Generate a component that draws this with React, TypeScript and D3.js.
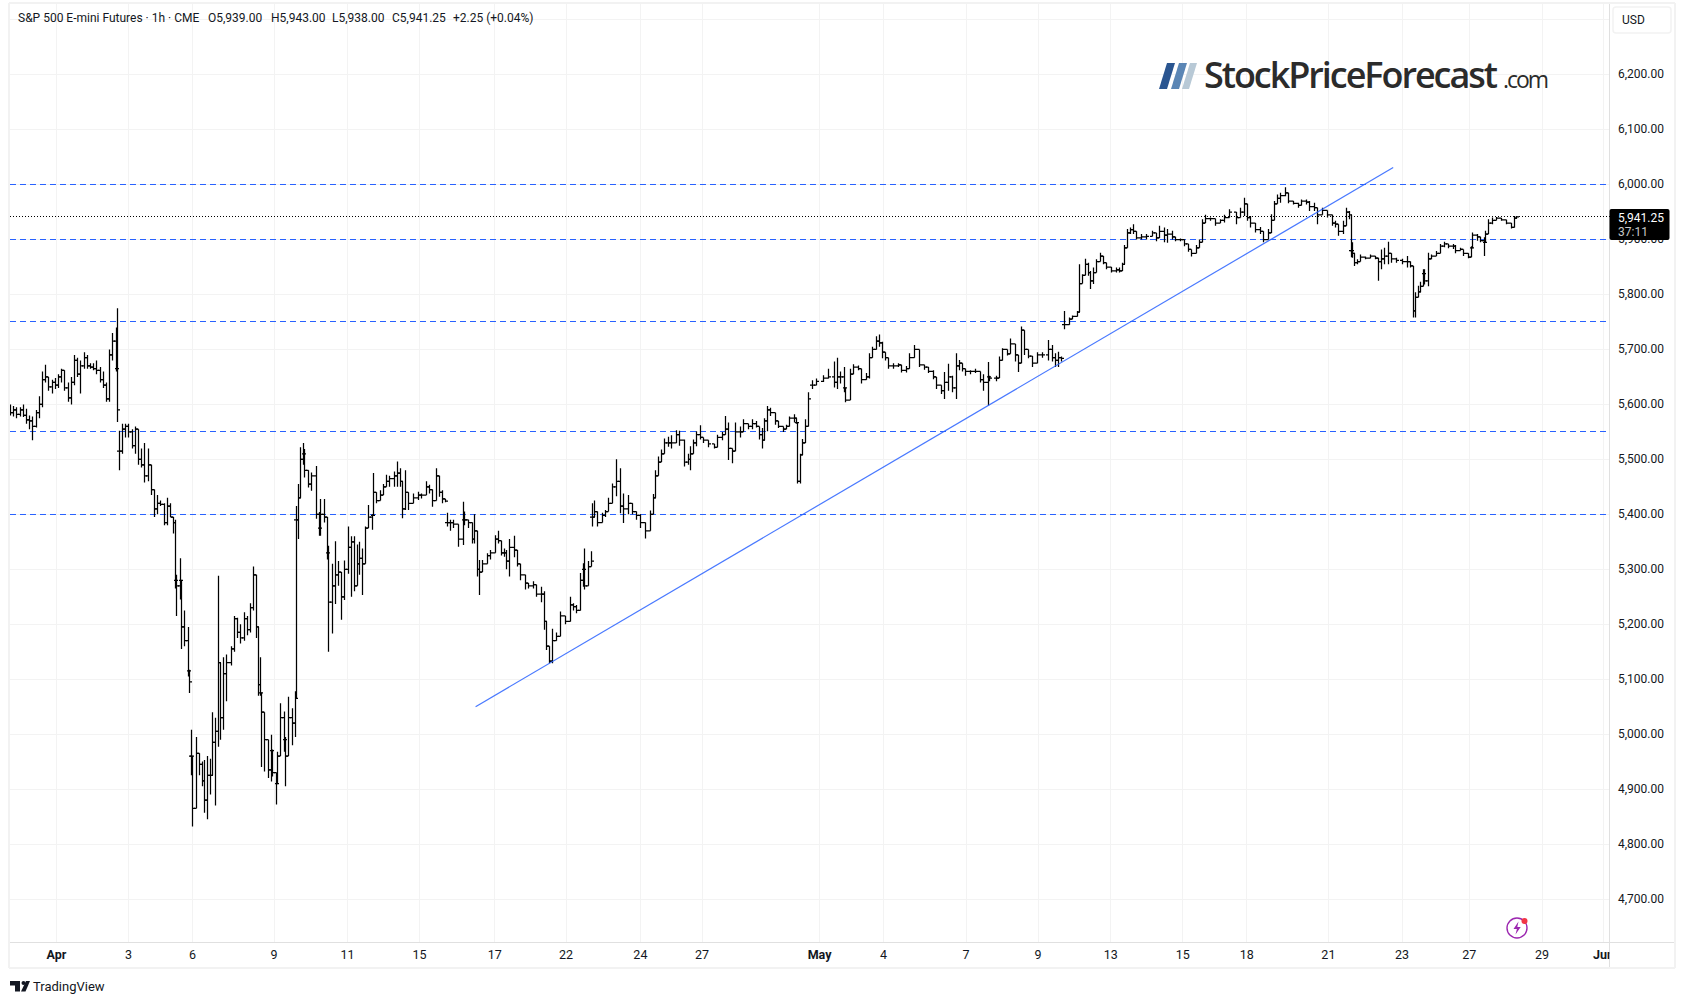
import * as d3 from "d3";

// bars are [hour, high, low, close]; hour counts traded hours from the left edge of the chart
type Bar = [number, number, number, number];

const aprilOpen: Bar[] = [
  [0,5600,5580,5585],[2,5597,5578,5590],[4,5595,5575,5582],[6,5595,5578,5590],[8,5600,5577,5580],
  [10,5592,5565,5572],[12,5580,5555,5570],[14,5578,5535,5560],[16,5590,5558,5585],[18,5615,5575,5600],
  [20,5660,5595,5645],[22,5672,5640,5650],[24,5650,5625,5632],[26,5645,5620,5640],[28,5648,5628,5635],
  [30,5655,5630,5650],[32,5665,5640,5662],[34,5662,5625,5630],[36,5640,5605,5612],[38,5650,5600,5640],
  [40,5690,5635,5680],[42,5685,5650,5655],[44,5680,5620,5670],[46,5695,5665,5685],[48,5690,5665,5670],
  [50,5675,5665,5668],[52,5675,5662,5665],[54,5680,5655,5662],[56,5668,5640,5645],[58,5660,5630,5635],
  [60,5640,5605,5610],[62,5700,5605,5690],[64,5730,5680,5715],[66,5740,5660,5665],[67,5775,5568,5590],
];

const aprilSlide: Bar[] = [
  [68,5552,5480,5515],[70,5565,5510,5555],[72,5565,5540,5560],[74,5565,5540,5550],[76,5555,5520,5525],
  [78,5560,5510,5555],[80,5530,5490,5500],[82,5520,5485,5490],[84,5530,5458,5470],[86,5520,5460,5490],
  [88,5485,5435,5445],[90,5440,5395,5410],[92,5435,5400,5420],[94,5425,5415,5418],[96,5420,5380,5385],
  [98,5430,5380,5415],[100,5420,5395,5395],[102,5395,5365,5385],[103,5390,5265,5280],[104,5290,5215,5270],
  [106,5320,5245,5280],[107,5280,5155,5195],[109,5225,5160,5170],[111,5195,5105,5115],[112,5117,5075,5095],
];

const aprilLows: Bar[] = [
  [113,5008,4925,4960],[114,4929,4832,4865],[116,4995,4875,4965],[118,4965,4925,4945],[120,4950,4905,4915],
  [121,4953,4857,4880],[123,4960,4845,4925],[125,4955,4890,4925],[126,5040,4970,4985],[128,5030,4870,5005],
  [130,5288,4977,5130],[131,5068,4990,5030],[133,5140,5008,5110],[135,5145,5060,5130],[138,5160,5125,5155],
  [140,5215,5150,5210],[142,5212,5175,5185],[144,5200,5165,5175],[146,5222,5170,5210],[148,5215,5180,5190],
  [150,5238,5185,5230],[152,5305,5225,5290],[154,5235,5175,5195],[155,5195,5070,5090],[156,5140,5070,5075],
  [157,5072,4940,5040],[159,5017,4932,4990],[161,4960,4920,4935],[163,4999,4914,4970],[164,4972,4923,4930],
  [166,4929,4872,4910],[167,4968,4914,4960],[169,5056,4971,5030],[171,5041,4968,4990],[172,4995,4905,4960],
  [174,5068,4962,5030],[176,5047,4980,5020],[178,5078,4995,5065],
];

const aprilRebound: Bar[] = [
  [179,5415,5065,5390],[180,5455,5355,5430],[181,5522,5483,5500],[183,5530,5490,5510],[184,5519,5467,5480],
  [186,5473,5449,5455],[188,5476,5443,5470],[191,5488,5392,5400],[193,5404,5361,5375],[194,5428,5361,5400],
  [196,5428,5385,5395],[198,5373,5318,5330],[199,5343,5150,5240],[201,5310,5183,5270],[203,5351,5237,5290],
  [205,5315,5270,5295],[207,5275,5208,5250],[209,5316,5244,5300],[211,5378,5292,5340],[213,5360,5250,5350],
  [215,5360,5260,5270],[217,5345,5290,5310],[218,5350,5290,5320],[220,5338,5253,5310],[222,5378,5310,5375],
  [224,5417,5375,5395],[226,5400,5372,5398],[227,5475,5411,5440],[229,5438,5420,5425],[231,5444,5426,5435],
  [233,5455,5438,5450],[235,5472,5450,5460],[237,5470,5450,5465],[240,5478,5450,5470],[242,5496,5450,5475],
  [244,5484,5450,5460],[245,5445,5393,5410],[247,5480,5408,5440],[249,5438,5408,5420],[252,5438,5426,5430],
  [255,5441,5426,5435],[257,5438,5429,5435],[260,5460,5438,5450],[262,5454,5438,5445],[264,5435,5414,5425],
  [266,5484,5432,5470],[268,5460,5432,5440],[270,5444,5420,5428],[272,5425,5422,5424],
];

const aprilRetest: Bar[] = [
  [273,5403,5378,5385],[275,5390,5370,5385],[277,5390,5375,5382],[280,5368,5341,5355],[283,5423,5344,5390],
  [284,5405,5380,5390],[286,5390,5375,5385],[289,5378,5347,5355],[290,5400,5347,5370],[292,5365,5287,5300],
  [293,5317,5253,5295],[295,5317,5296,5310],[298,5329,5311,5325],[300,5335,5318,5330],[303,5362,5344,5355],
  [305,5370,5347,5352],[307,5350,5325,5330],[309,5338,5323,5330],[310,5335,5300,5315],[312,5355,5287,5340],
  [315,5361,5322,5335],[317,5330,5305,5310],[319,5302,5280,5290],[322,5287,5263,5275],[324,5275,5265,5270],
  [327,5278,5265,5272],[329,5262,5250,5255],[332,5268,5240,5255],[334,5260,5190,5205],[335,5178,5153,5160],
  [337,5153,5129,5133],[339,5192,5129,5170],[341,5185,5172,5178],[344,5223,5205,5215],[347,5208,5200,5205],
  [350,5250,5205,5235],[352,5238,5225,5232],[354,5235,5220,5225],[356,5293,5235,5280],[358,5311,5268,5300],
  [359,5338,5263,5270],[361,5315,5295,5305],[363,5333,5310,5315],
];

const aprilClimb: Bar[] = [
  [364,5420,5378,5395],[365,5425,5398,5405],[367,5400,5378,5385],[370,5403,5390,5398],[372,5408,5395,5405],
  [374,5430,5410,5420],[376,5456,5430,5450],[379,5500,5433,5460],[381,5484,5402,5415],[383,5438,5384,5410],
  [386,5435,5400,5420],[389,5420,5400,5405],[391,5402,5390,5398],[394,5400,5375,5385],[397,5380,5356,5370],
  [400,5407,5380,5400],[402,5437,5400,5430],[403,5480,5437,5470],[405,5505,5487,5495],[407,5518,5500,5510],
  [409,5538,5520,5530],[411,5541,5523,5530],[413,5544,5520,5530],[416,5553,5535,5545],[418,5552,5525,5535],
  [421,5536,5487,5495],[424,5510,5490,5500],[425,5524,5480,5510],[427,5536,5512,5530],[429,5551,5524,5545],
  [431,5562,5536,5540],[433,5540,5530,5535],[436,5530,5522,5528],[440,5525,5520,5522],[442,5545,5530,5540],
  [445,5550,5535,5545],[447,5579,5545,5555],[449,5567,5499,5520],[451,5520,5493,5515],[453,5567,5535,5550],
  [456,5560,5540,5550],[458,5573,5557,5565],[461,5565,5555,5560],[464,5573,5555,5565],[466,5570,5558,5560],
  [468,5555,5536,5545],[470,5557,5520,5535],[471,5575,5550,5570],[473,5597,5551,5590],[475,5594,5579,5585],
  [478,5575,5563,5570],[480,5567,5557,5560],[483,5560,5550,5555],[485,5563,5557,5560],[487,5578,5569,5575],
  [490,5582,5567,5575],[491,5575,5565,5567],[492,5567,5456,5460],[494,5510,5456,5508],[495,5537,5512,5530],
  [497,5573,5536,5560],[499,5622,5573,5610],
];

const mayFirstWeek: Bar[] = [
  [501,5644,5628,5635],[504,5647,5637,5642],[508,5653,5641,5648],[511,5665,5647,5650],[515,5678,5631,5640],
  [517,5685,5628,5650],[519,5660,5638,5650],[521,5668,5622,5630],[522,5613,5604,5608],[525,5665,5610,5655],
  [527,5673,5662,5668],[530,5671,5662,5665],[532,5660,5638,5645],[535,5657,5645,5650],[537,5693,5647,5685],
  [539,5705,5687,5700],[541,5724,5705,5715],[543,5727,5705,5712],[545,5714,5684,5695],[547,5687,5680,5685],
  [549,5678,5665,5670],[552,5675,5665,5670],[555,5675,5668,5672],[557,5668,5658,5662],[560,5670,5658,5665],
  [562,5693,5677,5685],[565,5708,5693,5700],[568,5678,5668,5672],[571,5672,5663,5668],[574,5665,5657,5660],
  [577,5662,5646,5650],[579,5644,5628,5635],[582,5634,5619,5625],[584,5659,5610,5640],[586,5674,5625,5650],
  [589,5652,5622,5630],[591,5693,5610,5670],[593,5681,5662,5675],[595,5668,5660,5665],[597,5665,5652,5660],
  [600,5662,5655,5660],[603,5665,5657,5660],[606,5657,5640,5645],[608,5655,5625,5640],[611,5677,5598,5650],
  [612,5652,5642,5648],[616,5652,5642,5648],[618,5687,5668,5680],[620,5702,5696,5700],[623,5693,5689,5692],
  [625,5720,5699,5710],[628,5702,5678,5690],[630,5690,5659,5675],[632,5742,5720,5735],[634,5733,5690,5700],
  [636,5693,5684,5688],[639,5684,5668,5675],[642,5695,5685,5690],[645,5695,5685,5690],[649,5717,5680,5700],
  [651,5708,5678,5685],[653,5693,5668,5680],[655,5696,5668,5685],[657,5687,5678,5684],
];

const mayBreakout: Bar[] = [
  [659,5770,5737,5745],[662,5758,5750,5755],[664,5762,5755,5760],[667,5770,5764,5768],[668,5855,5770,5820],
  [670,5837,5831,5835],[672,5865,5840,5855],[674,5858,5834,5840],[675,5843,5810,5825],[677,5849,5819,5840],
  [679,5864,5849,5860],[681,5876,5864,5870],[683,5864,5855,5858],[685,5855,5846,5850],[688,5846,5840,5843],
  [691,5849,5840,5845],[693,5849,5840,5843],[695,5858,5849,5855],[696,5890,5867,5885],[698,5919,5907,5912],
  [700,5922,5910,5918],[702,5928,5910,5915],[704,5907,5900,5903],[707,5910,5900,5905],[710,5910,5900,5906],
  [714,5916,5907,5912],[716,5908,5897,5903],[718,5925,5904,5915],[721,5922,5895,5908],[723,5919,5894,5910],
  [726,5916,5900,5905],[728,5904,5897,5900],[731,5902,5897,5900],[734,5897,5888,5892],[736,5890,5878,5882],
  [738,5882,5869,5875],[741,5890,5878,5885],[743,5900,5888,5895],[745,5937,5922,5930],[747,5945,5931,5938],
  [750,5940,5934,5938],[753,5937,5925,5930],[756,5937,5931,5935],[759,5945,5931,5940],[762,5955,5943,5950],
  [766,5949,5928,5940],[769,5958,5940,5950],[771,5976,5943,5965],[773,5949,5934,5940],[775,5943,5922,5930],
  [778,5928,5913,5918],[781,5923,5910,5915],[783,5910,5895,5900],[786,5919,5901,5912],[788,5946,5913,5935],
  [790,5970,5952,5965],[792,5982,5967,5975],[794,5985,5967,5980],[797,5995,5979,5985],[799,5975,5966,5970],
  [802,5967,5964,5966],[805,5967,5958,5962],[807,5973,5964,5970],[810,5973,5964,5968],[812,5970,5952,5960],
  [815,5967,5952,5958],[817,5958,5928,5945],[820,5958,5949,5953],[823,5949,5940,5945],[826,5937,5925,5930],
  [828,5934,5922,5928],[830,5925,5907,5915],[833,5934,5910,5925],[835,5958,5937,5950],[837,5952,5937,5945],
];

const mayLast: Bar[] = [
  [838,5945,5868,5880],[839,5895,5867,5875],[840,5867,5852,5858],[842,5864,5855,5860],[844,5873,5864,5868],
  [847,5869,5864,5866],[850,5873,5867,5870],[853,5870,5864,5866],[855,5867,5825,5860],[857,5882,5846,5865],
  [859,5885,5855,5870],[861,5896,5855,5875],[863,5870,5858,5865],[866,5867,5858,5862],[870,5865,5855,5860],
  [873,5870,5849,5860],[875,5855,5849,5852],[877,5852,5758,5770],[878,5804,5758,5795],[880,5816,5795,5805],
  [881,5823,5804,5815],[883,5846,5832,5838],[884,5846,5818,5825],[886,5876,5815,5865],[888,5873,5864,5870],
  [891,5879,5870,5875],[894,5892,5883,5888],[896,5896,5886,5892],[899,5890,5884,5888],[902,5892,5883,5888],
  [903,5890,5875,5880],[906,5885,5880,5882],[908,5880,5870,5875],[911,5872,5866,5868],[913,5888,5874,5885],
  [914,5913,5901,5908],[917,5910,5898,5905],[919,5904,5895,5898],[921,5904,5870,5895],[922,5916,5901,5910],
  [924,5937,5916,5930],[926,5940,5928,5935],[929,5941,5937,5939],[932,5938,5934,5936],[935,5932,5928,5930],
  [938,5925,5920,5922],[940,5943,5925,5939],[941,5943,5938,5941.25],
];

const stretches = [
  aprilOpen, aprilSlide, aprilLows, aprilRebound, aprilRetest, aprilClimb, mayFirstWeek, mayBreakout, mayLast,
];
const bars = d3.merge<Bar>(stretches);
const stretchStarts = new Set(stretches.map((s) => s[0]));

const priceTicks = [6300, 6200, 6100, 6000, 5900, 5800, 5700, 5600, 5500, 5400, 5300, 5200, 5100, 5000, 4900, 4800, 4700];
const levels = [6000, 5900, 5750, 5550, 5400];
const dateLabels = ["Apr", "3", "6", "9", "11", "15", "17", "22", "24", "27", "May", "4", "7", "9", "13", "15", "18", "21", "23", "27", "29", "Jun"];
const dateHours = [29, 74, 114, 165, 211, 256, 303, 347.5, 394, 432.5, 506, 546, 597.5, 642.5, 688, 733, 773, 824, 870, 912, 957.5, 996];
const monthLabels = ["Apr", "May", "Jun"];
const trendHours = [291, 864.5];
const trendPrices = [5050, 6031];
const lastPrice = 5941.25;
const headerParts = ["S&P 500 E-mini Futures · 1h · CME", "O5,939.00", "H5,943.00", "L5,938.00", "C5,941.25", "+2.25 (+0.04%)"];
const headerStarts = [18, 208, 271, 332, 392, 453];

const width = 1685;
const height = 1004;
const plotLeft = 10;
const plotRight = 1609.5;
const frameRight = 1675;
const axisY = 942;
const frameBottom = 968;
const font = "Roboto, sans-serif";

const x = d3.scaleLinear([0, 1000], [10, 1610]);
const y = d3.scaleLinear([4700, 6000], [899, 184.6]);
const fmt = d3.format(",.2f");

export default function App() {
  const trend = d3.line<number>((d) => x(d), (_d, i) => y(trendPrices[i]))(trendHours) || "";

  return (
    <svg
      width={width}
      height={height}
      style={{ position: "absolute", left: 0, top: 0, background: "#fff" }}
      fontFamily={font}
    >
      <defs>
        <clipPath id="plot">
          <rect x={plotLeft} y={3} width={plotRight - plotLeft} height={axisY - 3} />
        </clipPath>
        <clipPath id="dates">
          <rect x={plotLeft} y={axisY} width={plotRight - plotLeft} height={frameBottom - axisY} />
        </clipPath>
      </defs>

      {/* grid */}
      <g stroke="#f3f3f3" strokeWidth="1" shapeRendering="crispEdges">
        {priceTicks.map((d) => (
          <line key={d} x1={plotLeft} x2={plotRight} y1={y(d)} y2={y(d)} />
        ))}
        {dateHours.map((d, i) => (
          <line key={i} x1={x(d)} x2={x(d)} y1={3} y2={axisY} />
        ))}
      </g>

      {/* frame */}
      <g stroke="#e0e0e0" strokeWidth="1" fill="none" shapeRendering="crispEdges">
        <line x1={plotLeft} x2={frameRight} y1={axisY} y2={axisY} />
        <line x1={plotRight} x2={plotRight} y1={3} y2={frameBottom} />
      </g>
      <g stroke="#f2f2f2" strokeWidth="2" fill="none" shapeRendering="crispEdges">
        <line x1={9} x2={frameRight} y1={3} y2={3} />
        <line x1={9} x2={frameRight} y1={frameBottom} y2={frameBottom} />
        <line x1={9} x2={9} y1={3} y2={frameBottom} />
        <line x1={frameRight} x2={frameRight} y1={3} y2={frameBottom} />
      </g>

      {/* logo */}
      <g>
        <path d="M1167 63h8l-8 26h-8z" fill="#2a5590" />
        <path d="M1179 63h8l-8 26h-8z" fill="#5b86b5" />
        <path d="M1190 63h7l-8 26h-7z" fill="#b8c9d6" />
        <text x={1204} y={88} fontFamily="'Open Sans', sans-serif" fontWeight="600" fontSize="36" fill="#2b2b2b" textLength={294}>
          StockPriceForecast
        </text>
        <text x={1503} y={88} fontFamily="'Open Sans', sans-serif" fontSize="23" fill="#2b2b2b" textLength={46}>
          .com
        </text>
      </g>

      {/* levels */}
      <g stroke="#2962ff" strokeWidth="1" strokeDasharray="6 4" shapeRendering="crispEdges">
        {levels.map((d) => (
          <line key={d} x1={plotLeft} x2={plotRight} y1={y(d)} y2={y(d)} />
        ))}
      </g>
      <line x1={plotLeft} x2={plotRight} y1={y(lastPrice)} y2={y(lastPrice)} stroke="#000" strokeWidth="1" strokeDasharray="1 2" shapeRendering="crispEdges" />

      {/* ohlc bars, each opens at the previous close except where a stretch starts after a gap */}
      <g clipPath="url(#plot)" stroke="#000" strokeWidth="1.25" fill="none">
        {bars.map(([t, high, low, close], i) => {
          const open = stretchStarts.has(bars[i]) ? close : bars[i - 1][3];
          const top = Math.max(high, open);
          const bottom = Math.min(low, open);
          const bx = Math.round(x(t)) + 0.5;
          return (
            <path
              key={i}
              d={`M${bx},${y(top)}V${y(bottom)}M${bx - 2.500},${y(open)}H${bx}M${bx},${y(close)}H${bx + 2.500}`}
            />
          );
        })}
      </g>

      <path d={trend} fill="none" stroke="#2962ff" strokeWidth="1.2" strokeOpacity="0.85" />

      {/* header */}
      <g fontSize="12" fill="#131722">
        {headerParts.map((d, i) => (
          <text key={i} x={headerStarts[i]} y={22}>
            {d}
          </text>
        ))}
      </g>

      {/* price axis */}
      <g fontSize="12" fill="#131722">
        {priceTicks.slice(1).map((d) => (
          <text key={d} x={1618} y={y(d) + 3.500}>
            {fmt(d)}
          </text>
        ))}
      </g>
      <rect x={1613} y={7} width={58} height={26} rx={3} fill="#fff" stroke="#f2f2f2" strokeWidth="1.500" />
      <text x={1622} y={24} fontSize="12" fill="#131722">USD</text>
      <rect x={plotRight} y={209} width={60} height={31} rx={2} fill="#000" />
      <text x={1618} y={221.500} fontSize="12" fill="#fff">{fmt(lastPrice)}</text>
      <text x={1618} y={235.500} fontSize="12" fill="#c8c8c8">37:11</text>

      {/* date axis */}
      <g clipPath="url(#dates)" fontSize="12.500" fill="#131722" textAnchor="middle">
        {dateLabels.map((d, i) => (
          <text
            key={i}
            x={x(dateHours[i])}
            y={958.500}
            fontWeight={monthLabels.includes(d) ? 700 : 400}
          >
            {d}
          </text>
        ))}
      </g>

      {/* lightning badge */}
      <circle cx={1517} cy={928} r={10} fill="#fff" stroke="#9c27b0" strokeWidth="1.400" />
      <path d="M1518.500 921.500l-5 7.500h3.400l-1.400 5.500 5.200-7.600h-3.400z" fill="#9c27b0" />
      <circle cx={1524.500} cy={921} r={3} fill="#f23645" />

      {/* tradingview mark */}
      <g fill="#131722">
        <path d="M10 981h10v10.500h-5v-6h-5z" />
        <circle cx={23.500} cy={983} r={2} />
        <path d="M26 981h4l-4.500 10.500h-4.500z" />
      </g>
      <text x={33} y={991} fontSize="13" fill="#131722">TradingView</text>
    </svg>
  );
}
